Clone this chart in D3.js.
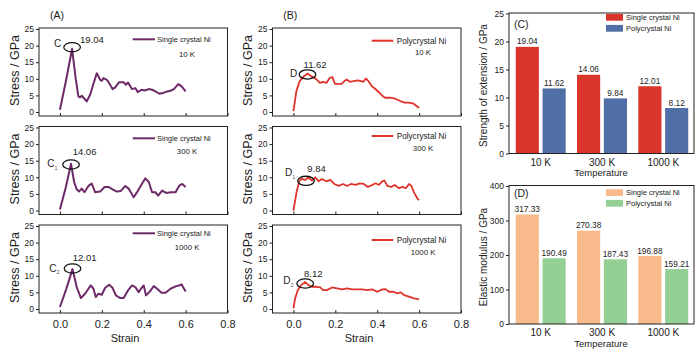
<!DOCTYPE html>
<html lang="en">
<head>
<meta charset="utf-8">
<title>Ni strength</title>
<style>
body { margin: 0; background: #fff; }
svg { display: block; font-family: "Liberation Sans", Arial, sans-serif; }
</style>
</head>
<body>
<svg width="700" height="352"></svg>
<script src="https://cdn.jsdelivr.net/npm/d3@7"></script>
<script>
// ---- data ----
var temps = ["10 K", "300 K", "1000 K"];
var singleStrength = [19.04, 14.06, 12.01];
var polyStrength = [11.62, 9.84, 8.12];
var singleModulus = [317.33, 270.38, 196.88];
var polyModulus = [190.49, 187.43, 159.21];
var singlePeakStrain = [0.058, 0.053, 0.06];
var polyPeakStrain = [0.067, 0.06, 0.056];
var strainTicks = [0, 0.2, 0.4, 0.6, 0.8];
var stressTicks = [0, 5, 10, 15, 20, 25];
var strengthTicks = [0, 5, 10, 15, 20, 25];
var modulusTicks = [0, 100, 200, 300, 400];

// [strain, stress GPa]
var single10K = [[0,0.7],[0.03,9.8],[0.058,19.04],[0.075,10.2],[0.088,4.7],[0.096,4.4],[0.104,4.9],[0.117,4.0],[0.128,3.2],[0.144,5.2],[0.16,8.5],[0.176,11.7],[0.192,9.7],[0.2,9.4],[0.208,10.2],[0.224,9.7],[0.235,8.7],[0.251,6.9],[0.264,7.4],[0.283,9.0],[0.304,9.0],[0.315,8.2],[0.325,8.9],[0.344,6.9],[0.36,7.2],[0.371,6.0],[0.389,6.7],[0.405,6.5],[0.424,6.9],[0.44,6.7],[0.456,6.2],[0.475,5.5],[0.491,5.7],[0.512,6.2],[0.528,6.4],[0.544,6.9],[0.565,8.4],[0.581,7.7],[0.6,6.2]];
var single300K = [[0,0.3],[0.028,7],[0.053,14.06],[0.068,8.5],[0.08,6.4],[0.091,5.7],[0.104,6.6],[0.117,5.5],[0.136,7.4],[0.152,8.1],[0.168,5.5],[0.192,5.7],[0.213,7.1],[0.232,7.1],[0.251,6.4],[0.272,5.7],[0.291,5.9],[0.312,7.4],[0.328,6.6],[0.352,4.0],[0.373,6.0],[0.395,8.4],[0.408,9.7],[0.424,8.6],[0.44,5.5],[0.456,5.5],[0.469,4.5],[0.488,6.0],[0.507,5.3],[0.528,5.5],[0.552,5.5],[0.571,7.6],[0.584,8.0],[0.6,7.1]];
var single1000K = [[0,0.6],[0.03,6],[0.06,12.01],[0.08,6.6],[0.1,3.3],[0.12,4.6],[0.136,6.1],[0.147,7.1],[0.16,6.1],[0.171,3.6],[0.184,4.6],[0.2,4.3],[0.216,6.4],[0.235,7.3],[0.251,6.4],[0.267,4.1],[0.288,3.3],[0.304,3.3],[0.325,5.6],[0.344,7.1],[0.36,6.6],[0.376,5.1],[0.389,6.3],[0.4,7.1],[0.411,4.1],[0.427,5.1],[0.448,6.9],[0.464,6.1],[0.485,4.9],[0.504,4.9],[0.528,6.1],[0.555,6.9],[0.568,7.1],[0.581,7.4],[0.6,5.3]];
var poly10K = [[0,0.3],[0.014,6.3],[0.03,9.3],[0.051,10.8],[0.067,11.62],[0.083,10.8],[0.099,10.3],[0.11,9.8],[0.126,8.8],[0.142,9.1],[0.158,8.8],[0.174,10.3],[0.186,10.5],[0.198,8.5],[0.214,8.5],[0.23,8.5],[0.243,9.3],[0.254,9.8],[0.27,9.1],[0.286,9.3],[0.307,9.5],[0.323,9.3],[0.334,9.1],[0.346,10.1],[0.358,9.3],[0.374,7.8],[0.39,7.0],[0.411,5.8],[0.426,4.8],[0.438,4.3],[0.462,4.3],[0.486,4.0],[0.51,3.3],[0.531,2.8],[0.55,2.8],[0.574,2.5],[0.6,1.2]];
var poly300K = [[0,0],[0.016,5.9],[0.029,9.0],[0.04,9.5],[0.056,9.2],[0.072,10.0],[0.088,9.0],[0.104,10.0],[0.12,8.8],[0.136,9.5],[0.157,8.8],[0.176,9.2],[0.195,8.0],[0.216,7.4],[0.237,8.0],[0.256,7.4],[0.275,8.0],[0.296,7.7],[0.317,8.2],[0.336,8.0],[0.355,7.1],[0.376,7.7],[0.392,8.2],[0.408,7.7],[0.424,8.8],[0.435,9.0],[0.448,7.4],[0.467,7.1],[0.483,7.7],[0.504,6.7],[0.52,7.1],[0.536,6.7],[0.552,8.0],[0.563,7.4],[0.576,5.4],[0.592,3.6],[0.6,3.1]];
var poly1000K = [[0,0.2],[0.008,3.2],[0.021,5.7],[0.037,7.2],[0.056,8.12],[0.072,7.2],[0.088,6.7],[0.109,6.7],[0.128,6.5],[0.141,5.7],[0.16,5.7],[0.184,6.5],[0.208,6.2],[0.232,5.9],[0.256,6.2],[0.28,5.9],[0.304,5.9],[0.328,5.9],[0.352,5.7],[0.376,5.9],[0.4,5.2],[0.424,5.9],[0.44,6.0],[0.456,5.2],[0.477,5.2],[0.496,4.7],[0.512,5.0],[0.528,4.2],[0.552,3.7],[0.576,3.2],[0.6,2.9]];

// ---- layout ----
var svg = d3.select("svg");
var ink = "#222";
var rowTops = [28, 126.5, 225];

var cols = [
  { left: 39, right: 227.5, tag: "(A)", tagX: 50, titleX: 15, strainX: 125,
    color: "#6e2a68", lw: 2, name: "Single crystal Ni", letter: "C",
    series: [single10K, single300K, single1000K], peaks: singlePeakStrain, strength: singleStrength,
    legX: [132.7, 155], legText: 157, legFont: 7.5, tempX: 187,
    legDy: [11.3, 11.8, 8.3], tempDy: [28.7, 27.8, 25],
    ellDy: [-1.5, 0.7, -0.6], num: [[8, -6], [1.6, -8.8], [0.2, -8.1]],
    let: [[-18.1, -2.1], [-23.8, 3.5], [-23.2, 2.6]] },
  { left: 272.5, right: 461, tag: "(B)", tagX: 283.3, titleX: 248, strainX: 359,
    color: "#e0332c", lw: 1.8, name: "Polycrystal Ni", letter: "D",
    series: [poly10K, poly300K, poly1000K], peaks: polyPeakStrain, strength: polyStrength,
    legX: [371.7, 393.3], legText: 396.7, legFont: 8.2, tempX: 423,
    legDy: [12.7, 9.5, 15], tempDy: [27, 24.2, 30],
    ellDy: [1, 3, 1.5], num: [[-3.9, -5.1], [1.3, -6.1], [-1.1, -5.3]],
    let: [[-17.4, 3.3], [-21, -1.8], [-21.8, 2.3]] }
];

cols.forEach(function(c) {
  var x = d3.scaleLinear().domain([-0.1, 0.8]).range([c.left, c.right]);

  svg.append("text").attr("x", c.tagX).attr("y", 19)
     .attr("font-size", 10.5).attr("fill", ink).text(c.tag);

  rowTops.forEach(function(top, ri) {
    var y = d3.scaleLinear().domain([-1.2, 25.3]).range([top + 88, top]);
    var g = svg.append("g");

    g.append("rect").attr("x", c.left).attr("y", top)
      .attr("width", c.right - c.left).attr("height", 88)
      .attr("fill", "none").attr("stroke", ink).attr("stroke-width", 1);

    var ya = g.append("g").attr("transform", "translate(" + c.left + ",0)")
      .call(d3.axisLeft(y).tickValues(stressTicks).tickSize(3).tickPadding(2));
    ya.select(".domain").remove();
    ya.attr("font-size", 8.5).attr("font-family", null).attr("color", ink);

    var xa = g.append("g").attr("transform", "translate(0," + (top + 88) + ")")
      .call(d3.axisBottom(x).tickValues(strainTicks).tickSize(-3).tickPadding(7)
        .tickFormat(ri === 2 ? d3.format(".1f") : ""));
    xa.select(".domain").remove();
    xa.attr("font-size", 11).attr("font-family", null).attr("color", ink);

    // y title
    g.append("text")
      .attr("transform", "translate(" + c.titleX + "," + ((y(0) + y(25)) / 2) + ") rotate(-90)")
      .attr("text-anchor", "middle").attr("dy", "0.35em")
      .attr("font-size", 12.5).attr("fill", ink).text("Stress / GPa");

    // curve
    g.append("path").datum(c.series[ri])
      .attr("fill", "none").attr("stroke", c.color).attr("stroke-width", c.lw)
      .attr("stroke-linejoin", "round")
      .attr("d", d3.line().x(function(d) { return x(d[0]); }).y(function(d) { return y(d[1]); }));

    // legend
    var ly = top + c.legDy[ri];
    g.append("line").attr("x1", c.legX[0]).attr("x2", c.legX[1]).attr("y1", ly).attr("y2", ly)
      .attr("stroke", c.color).attr("stroke-width", 2);
    g.append("text").attr("x", c.legText).attr("y", ly).attr("dy", "0.35em")
      .attr("font-size", c.legFont).attr("fill", ink).text(c.name);
    g.append("text").attr("x", c.tempX).attr("y", top + c.tempDy[ri])
      .attr("text-anchor", "middle").attr("font-size", 7.8).attr("fill", ink).text(temps[ri]);

    // peak annotation
    var px = x(c.peaks[ri]), py = y(c.strength[ri]);
    g.append("ellipse").attr("cx", px).attr("cy", py + c.ellDy[ri]).attr("rx", 8.3).attr("ry", 4.6)
      .attr("fill", "none").attr("stroke", "#111").attr("stroke-width", 1.3);
    g.append("text").attr("x", px + c.num[ri][0]).attr("y", py + c.num[ri][1])
      .attr("font-size", 9.5).attr("fill", ink).text(c.strength[ri].toFixed(2));
    var lt = g.append("text").attr("x", px + c.let[ri][0]).attr("y", py + c.let[ri][1])
      .attr("font-size", 10).attr("fill", ink).text(c.letter);
    if (ri > 0) {
      lt.append("tspan").attr("font-size", 5.5).attr("dy", 2.5).attr("fill", "#555").text(ri);
    }

    if (ri === 2) {
      svg.append("text").attr("x", c.strainX).attr("y", 342)
        .attr("text-anchor", "middle").attr("font-size", 11).attr("fill", ink).text("Strain");
    }
  });
});

// ---- bar panels ----
var barPanels = [
  { top: 13.5, bottom: 153.5, max: 25, ticks: strengthTicks, a: singleStrength, b: polyStrength,
    colors: ["#d9352b", "#4f6fa6"], tag: "(C)", tagY: 28, title: "Strength of extension / GPa",
    legY: [17.3, 28.3], tempY: 176 },
  { top: 186, bottom: 324, max: 400, ticks: modulusTicks, a: singleModulus, b: polyModulus,
    colors: ["#f8ba8a", "#94cf93"], tag: "(D)", tagY: 197.3, title: "Elastic modulus / GPa",
    legY: [192.6, 203.3], tempY: 347 }
];

var x0 = d3.scaleBand().domain(temps).range([509, 695]).paddingInner(0.185).paddingOuter(0.11);
var x1 = d3.scaleBand().domain([0, 1]).range([0, x0.bandwidth()]).paddingInner(0.137);

barPanels.forEach(function(p) {
  var y = d3.scaleLinear().domain([0, p.max]).range([p.bottom, p.top]);
  var g = svg.append("g");

  temps.forEach(function(t, i) {
    [p.a[i], p.b[i]].forEach(function(v, k) {
      var bx = x0(t) + x1(k);
      g.append("rect").attr("x", bx).attr("y", y(v))
        .attr("width", x1.bandwidth()).attr("height", y(0) - y(v))
        .attr("fill", p.colors[k]);
      g.append("text").attr("x", bx + x1.bandwidth() / 2).attr("y", y(v) - 2.5)
        .attr("text-anchor", "middle").attr("font-size", 8.3).attr("fill", ink)
        .text(v.toFixed(2));
    });
  });

  g.append("rect").attr("x", 509).attr("y", p.top - 0.5)
    .attr("width", 695 - 509 - 1).attr("height", p.bottom - p.top + 0.5)
    .attr("fill", "none").attr("stroke", ink).attr("stroke-width", 1);

  var ya = g.append("g").attr("transform", "translate(509,0)")
    .call(d3.axisLeft(y).tickValues(p.ticks).tickSize(3).tickPadding(2));
  ya.select(".domain").remove();
  ya.attr("font-size", 8.5).attr("font-family", null).attr("color", ink);

  var xa = g.append("g").attr("transform", "translate(0," + p.bottom + ")")
    .call(d3.axisBottom(x0).tickSize(0).tickPadding(5));
  xa.select(".domain").remove();
  xa.attr("font-size", 10).attr("font-family", null).attr("color", ink);

  g.append("text").attr("x", 601).attr("y", p.tempY).attr("text-anchor", "middle")
    .attr("font-size", 9.5).attr("fill", ink).text("Temperature");

  g.append("text")
    .attr("transform", "translate(483.5," + ((p.top + p.bottom) / 2 + 2) + ") rotate(-90)")
    .attr("text-anchor", "middle").attr("dy", "0.35em")
    .attr("font-size", 10).attr("fill", ink).text(p.title);

  g.append("text").attr("x", 514).attr("y", p.tagY)
    .attr("font-size", 10.5).attr("fill", ink).text(p.tag);

  ["Single crystal Ni", "Polycrystal Ni"].forEach(function(name, k) {
    g.append("rect").attr("x", 606).attr("y", p.legY[k] - 3.4)
      .attr("width", 17).attr("height", 6.8).attr("fill", p.colors[k]);
    g.append("text").attr("x", 626).attr("y", p.legY[k]).attr("dy", "0.35em")
      .attr("font-size", 7.5).attr("fill", ink).text(name);
  });
});
</script>
</body>
</html>
